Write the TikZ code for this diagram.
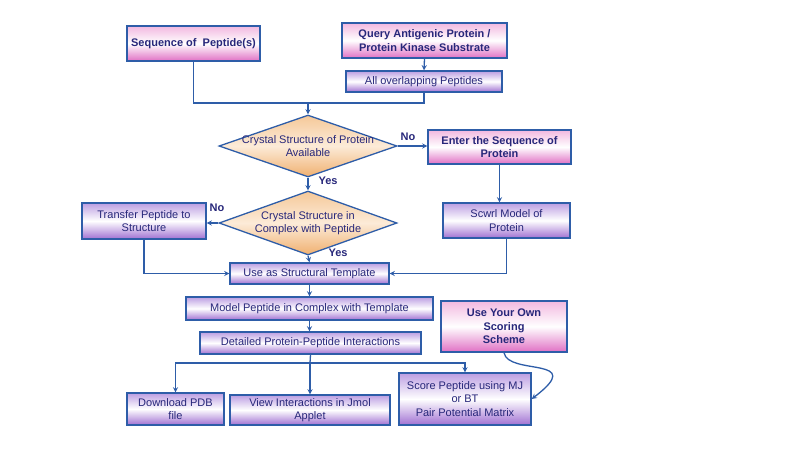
\documentclass[tikz,border=0pt]{standalone}
\usepackage{fontspec}
\setmainfont{Liberation Sans}
\usepackage{tikz}
\usetikzlibrary{shapes.geometric,calc}

\definecolor{boxline}{HTML}{2E5DA8}
\definecolor{txtblue}{HTML}{27277A}
\definecolor{pinktop}{HTML}{F2B8E0}
\definecolor{pinkbot}{HTML}{E070C4}
\definecolor{violettop}{HTML}{BC9EE2}
\definecolor{violetbot}{HTML}{A070D2}
\definecolor{peachtop}{HTML}{F5C898}
\definecolor{peachmid}{HTML}{FCEBD8}
\definecolor{peachbot}{HTML}{F0B070}

\begin{document}
\begin{tikzpicture}[
  x=1pt, y=-1pt,
  >=stealth,
  every node/.style = {font=\fontsize{11}{13.5}\selectfont, text=txtblue, align=center},
  flowbox/.style = {shape=rectangle, draw=boxline, line width=1.3pt, inner sep=1pt},
  pinkbox/.style = {flowbox, font=\fontsize{11}{13.5}\selectfont\bfseries,
                    top color=pinktop, bottom color=pinkbot, middle color=white},
  purplebox/.style = {flowbox, top color=violettop, bottom color=violetbot, middle color=white},
  decision/.style = {shape=diamond, draw=boxline, line width=1.3pt, inner sep=0pt,
                     top color=peachtop, bottom color=peachbot, middle color=peachmid},
  answer/.style = {font=\fontsize{11}{13.5}\selectfont\bfseries},
  flow/.style = {draw=boxline, line width=1.3pt}
]
  \useasboundingbox (0,0) rectangle (800,451);

  \node[pinkbox, minimum width=133pt, minimum height=35pt] (seq) at (193.5,43.5) {Sequence of~ Peptide(s)};
  \node[pinkbox, minimum width=165pt, minimum height=35pt] (query) at (424.5,40.5) {Query Antigenic Protein /\\Protein Kinase Substrate};
  \node[purplebox, minimum width=156pt, minimum height=21pt] (overlap) at (424,81.5) {All overlapping Peptides};

  \node[decision, minimum width=178pt, minimum height=62pt,
        label={[align=center]center:Crystal Structure of Protein\\Available}] (cryst) at (308,146) {};
  \node[pinkbox, minimum width=143pt, minimum height=34pt] (enter) at (499.5,147) {Enter the Sequence of\\Protein};
  \node[purplebox, minimum width=127pt, minimum height=35pt] (scwrl) at (506.5,220.5) {Scwrl Model of\\Protein};

  \node[decision, minimum width=178pt, minimum height=64pt,
        label={[align=center]center:Crystal Structure in\\Complex with Peptide}] (complex) at (308,223) {};
  \node[purplebox, minimum width=124pt, minimum height=36pt] (transfer) at (144,221) {Transfer Peptide to\\Structure};

  \node[purplebox, minimum width=159pt, minimum height=21pt] (template) at (309.5,273.5) {Use as Structural Template};
  \node[purplebox, minimum width=247pt, minimum height=23pt] (model) at (309.5,308.5) {Model Peptide in Complex with Template};
  \node[purplebox, minimum width=221pt, minimum height=22pt] (detail) at (310.5,343) {Detailed Protein-Peptide Interactions};

  \node[purplebox, minimum width=97pt, minimum height=32pt] (download) at (175.5,409) {Download PDB\\file};
  \node[purplebox, minimum width=160pt, minimum height=30pt] (jmol) at (310,410) {View Interactions in Jmol\\Applet};
  \node[purplebox, minimum width=132pt, minimum height=52pt] (score) at (465,399) {Score Peptide using MJ\\or BT\\Pair Potential Matrix};
  \node[pinkbox, minimum width=126pt, minimum height=51pt] (own) at (504,326.5) {Use Your Own\\Scoring\\Scheme};

  \node[answer] (no1) at (408,137) {No};
  \node[answer] (yes1) at (328,181) {Yes};
  \node[answer] (no2) at (217,208) {No};
  \node[answer] (yes2) at (338,253) {Yes};

  \coordinate (merge) at (308,103);
  \coordinate (split) at (310,363);

  \draw[flow] (seq.south) |- (merge) -| (overlap.south);
  \draw[flow,->] (merge) -- (cryst.north);
  \draw[flow,->] (query.south) -- (overlap.north);
  \draw[flow,->] (cryst.east) -- (cryst.east -| enter.west);
  \draw[flow,->] (enter.south) -- (enter.south |- scwrl.north);
  \draw[flow,->] (cryst.south) -- (complex.north);
  \draw[flow,->] (complex.west) -- (complex.west -| transfer.east);
  \draw[flow,->] (complex.south) -- (template.north);
  \draw[flow,->] (transfer.south) |- (template.west);
  \draw[flow,->] (scwrl.south) |- (template.east);
  \draw[flow,->] (template.south) -- (template.south |- model.north);
  \draw[flow,->] (model.south) -- (model.south |- detail.north);
  \draw[flow] (detail.south) -- (split);
  \draw[flow,->] (split) -| (download.north);
  \draw[flow,->] (split) -| (score.north);
  \draw[flow,->] (split) -- (split |- jmol.north);
  \draw[flow,->] (own.south) .. controls (508,376) and (588,356) .. (score.east);
\end{tikzpicture}
\end{document}
